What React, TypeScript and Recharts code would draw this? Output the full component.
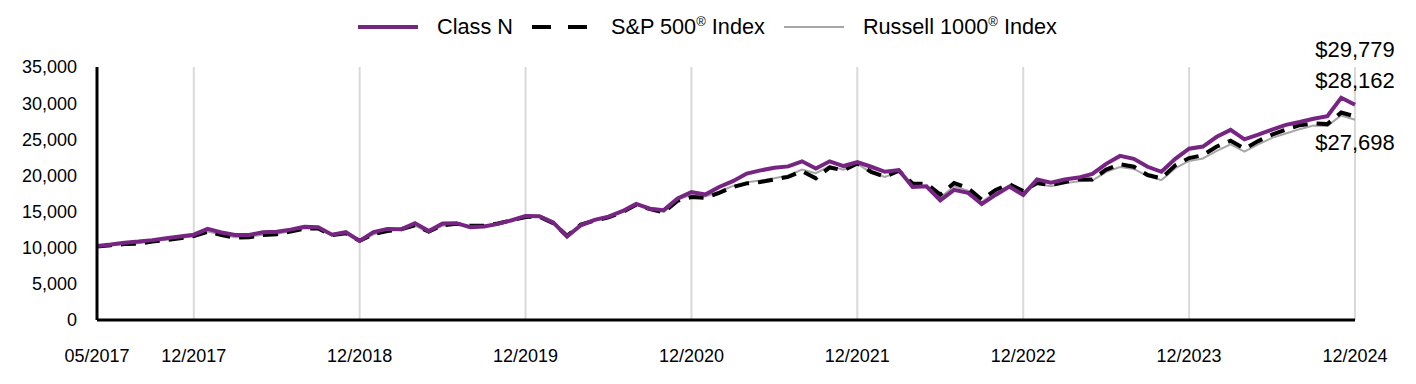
import { LineChart, Line, XAxis, YAxis, CartesianGrid } from "recharts";

const months = [
  "05/2017", "06/2017", "07/2017", "08/2017", "09/2017", "10/2017", "11/2017", "12/2017",
  "01/2018", "02/2018", "03/2018", "04/2018", "05/2018", "06/2018", "07/2018", "08/2018", "09/2018", "10/2018", "11/2018", "12/2018",
  "01/2019", "02/2019", "03/2019", "04/2019", "05/2019", "06/2019", "07/2019", "08/2019", "09/2019", "10/2019", "11/2019", "12/2019",
  "01/2020", "02/2020", "03/2020", "04/2020", "05/2020", "06/2020", "07/2020", "08/2020", "09/2020", "10/2020", "11/2020", "12/2020",
  "01/2021", "02/2021", "03/2021", "04/2021", "05/2021", "06/2021", "07/2021", "08/2021", "09/2021", "10/2021", "11/2021", "12/2021",
  "01/2022", "02/2022", "03/2022", "04/2022", "05/2022", "06/2022", "07/2022", "08/2022", "09/2022", "10/2022", "11/2022", "12/2022",
  "01/2023", "02/2023", "03/2023", "04/2023", "05/2023", "06/2023", "07/2023", "08/2023", "09/2023", "10/2023", "11/2023", "12/2023",
  "01/2024", "02/2024", "03/2024", "04/2024", "05/2024", "06/2024", "07/2024", "08/2024", "09/2024", "10/2024", "11/2024", "12/2024",
];

const classN = [
  10250, 10450, 10700, 10850, 11050, 11300, 11550, 11800,
  12600, 12100, 11750, 11750, 12150, 12200, 12500, 12900, 12850, 11800, 12150, 10950,
  12150, 12600, 12550, 13400, 12300, 13350, 13400, 12850, 12950, 13300, 13800, 14400,
  14350, 13500, 11550, 13100, 13850, 14300, 15050, 16050, 15400, 15200, 16800, 17700,
  17350, 18400, 19200, 20250, 20700, 21050, 21250, 21950, 20950, 21950, 21300, 21850,
  21200, 20500, 20750, 18400, 18500, 16550, 18000, 17600, 16050, 17300, 18450, 17300,
  19450, 19000, 19450, 19700, 20200, 21600, 22700, 22300, 21200, 20500, 22300, 23700,
  24000, 25350, 26300, 25000, 25650, 26350, 27000, 27400, 27850, 28200, 30750, 29779,
];

const sp500 = [
  10150, 10350, 10500, 10550, 10850, 11050, 11300, 11600,
  12200, 11750, 11400, 11450, 11750, 11850, 12250, 12650, 12650, 11750, 12000, 10950,
  11900, 12300, 12550, 13100, 12250, 13100, 13300, 13050, 13050, 13350, 13800, 14250,
  14300, 13400, 11650, 13200, 13750, 14200, 14900, 15950, 15350, 14900, 16500, 17000,
  16900, 17600, 18400, 18900, 19100, 19450, 19800, 20600, 19600, 21100, 20700, 21650,
  20500, 19800, 20650, 18900, 18850, 17350, 18950, 18250, 16650, 18000, 18800, 17850,
  18950, 18650, 19100, 19450, 19450, 20800, 21550, 21200, 20050, 19600, 21400, 22400,
  22800, 24000, 24800, 23700, 24750, 25650, 26350, 26950, 27200, 27100, 28700, 28162,
];

const russell1000 = [
  10150, 10350, 10550, 10600, 10900, 11100, 11350, 11600,
  12250, 11800, 11450, 11500, 11800, 11900, 12300, 12700, 12600, 11700, 11950, 10850,
  11850, 12300, 12550, 13050, 12100, 13050, 13250, 13000, 13050, 13350, 13800, 14250,
  14300, 13350, 11600, 13150, 13750, 14250, 15000, 16050, 15300, 14950, 16650, 17300,
  17100, 17750, 18550, 19050, 19300, 19600, 20000, 20800, 20300, 21300, 20800, 21600,
  20400, 19800, 20500, 18600, 18500, 16950, 18500, 17900, 16300, 17700, 18600, 17700,
  18800, 18500, 18900, 19200, 19300, 20500, 21150, 20900, 19900, 19350, 21000, 22000,
  22350, 23400, 24300, 23300, 24300, 25200, 25800, 26400, 26900, 26850, 28300, 27698,
];

const xTicks = ["05/2017", "12/2017", "12/2018", "12/2019", "12/2020", "12/2021", "12/2022", "12/2023", "12/2024"];
const yTicks = [0, 5000, 10000, 15000, 20000, 25000, 30000, 35000];

const data = months.map((month, i) => ({
  month,
  classN: classN[i],
  sp500: sp500[i],
  russell: russell1000[i],
}));

const FONT = "'Liberation Sans', Arial, sans-serif";
const PURPLE = "#772583";
const GRAY = "#a6a6a6";

// label only at the final point, shifted up/down so they don't collide
const endLabel = (dy: number) => (props: any) => {
  const { x, y, index, value } = props;
  if (index !== months.length - 1) return null;
  return (
    <text
      x={x}
      y={y + dy}
      textAnchor="middle"
      dominantBaseline="central"
      fontSize={22}
      fontFamily={FONT}
      fill="#000"
    >
      ${Number(value).toLocaleString("en-US")}
    </text>
  );
};

function LegendItem({ color, width, dash, label, sup }: { color: string; width: number; dash?: string; label: string; sup?: string }) {
  return (
    <div style={{ display: "flex", alignItems: "center", marginRight: 19 }}>
      <svg width={60} height={10} style={{ marginRight: 19 }}>
        <line x1={0} y1={5} x2={60} y2={5} stroke={color} strokeWidth={width} strokeDasharray={dash} />
      </svg>
      <span>
        {label}
        {sup && <sup style={{ fontSize: 13, verticalAlign: "8px" }}>{sup}</sup>}
        {sup && " Index"}
      </span>
    </div>
  );
}

export default function App() {
  return (
    <div style={{ position: "absolute", left: 0, top: 0, width: 1416, height: 384, background: "#fff", fontFamily: FONT }}>
      <div
        style={{
          position: "absolute",
          top: 14,
          left: 9,
          width: 1416,
          display: "flex",
          justifyContent: "center",
          fontSize: 21.7,
          color: "#000",
        }}
      >
        <LegendItem color={PURPLE} width={4} label="Class N" />
        <LegendItem color="#000" width={4} dash="19 17" label="S&P 500" sup="®" />
        <LegendItem color={GRAY} width={2} label="Russell 1000" sup="®" />
      </div>
      <LineChart width={1416} height={384} data={data} margin={{ top: 67, right: 61, bottom: 34, left: 0 }}>
        <CartesianGrid horizontal={false} stroke="#d9d9d9" strokeWidth={2} />
        <XAxis
          dataKey="month"
          ticks={xTicks}
          interval={0}
          height={30}
          tickSize={0}
          tickMargin={29}
          axisLine={{ stroke: "#000", strokeWidth: 3 }}
          tick={{ fill: "#000", fontSize: 18, fontFamily: FONT }}
        />
        <YAxis
          width={97}
          domain={[0, 35000]}
          ticks={yTicks}
          tickSize={0}
          tickMargin={20}
          axisLine={{ stroke: "#000", strokeWidth: 3 }}
          tickFormatter={(v: number) => v.toLocaleString("en-US")}
          tick={{ fill: "#000", fontSize: 18, fontFamily: FONT }}
        />
        <Line dataKey="russell" stroke={GRAY} strokeWidth={2} dot={false} isAnimationActive={false} label={endLabel(23)} />
        <Line dataKey="sp500" stroke="#000" strokeWidth={4} strokeDasharray="15 9" dot={false} isAnimationActive={false} label={endLabel(-36)} />
        <Line dataKey="classN" stroke={PURPLE} strokeWidth={4} dot={false} isAnimationActive={false} label={endLabel(-55)} />
      </LineChart>
    </div>
  );
}
